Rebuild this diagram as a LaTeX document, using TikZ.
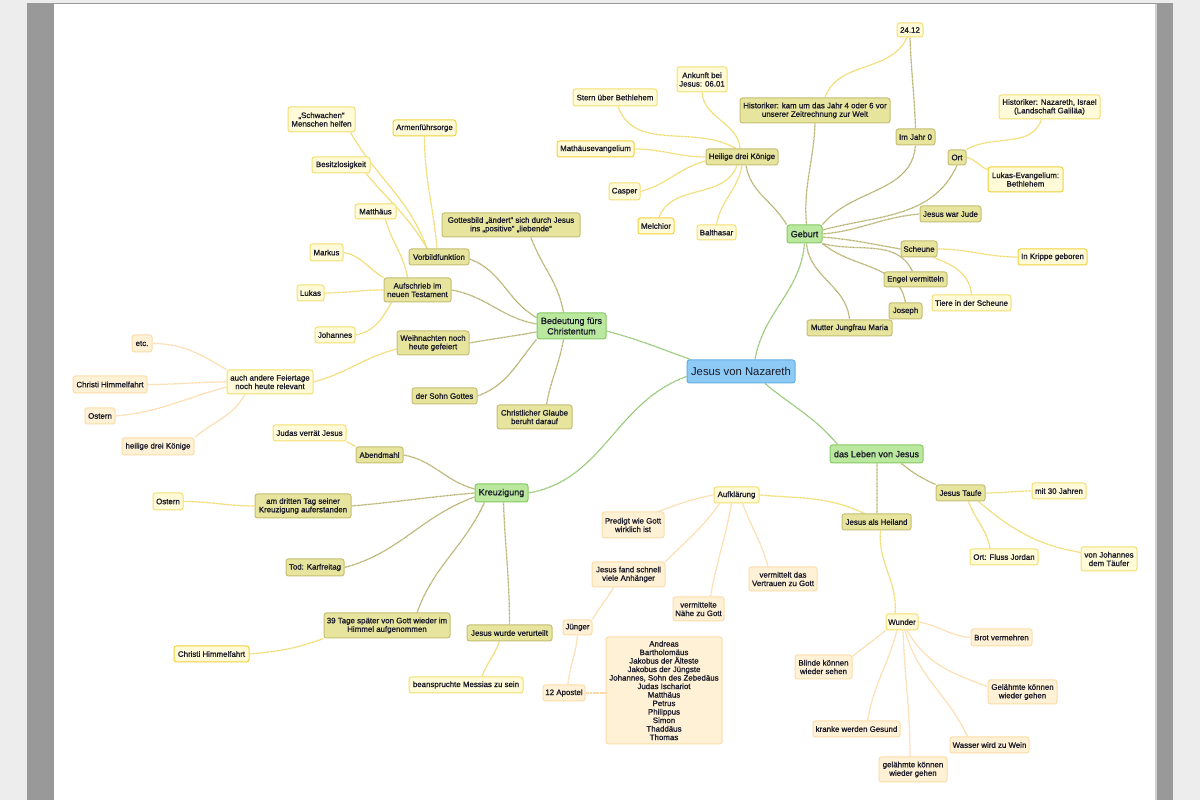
\documentclass[tikz,border=0pt]{standalone}
\usepackage{fontspec}
\setmainfont{Liberation Sans}
\newfontfamily\heavyfont{Liberation Sans}[FakeBold=1.1]
\definecolor{c0f}{HTML}{8DCBF6}\definecolor{c0d}{HTML}{62AEE3}
\definecolor{c1f}{HTML}{B9E89E}\definecolor{c1d}{HTML}{86C964}
\definecolor{c2f}{HTML}{E7E49E}\definecolor{c2d}{HTML}{C4BF72}
\definecolor{c3f}{HTML}{FFFAD8}\definecolor{c3d}{HTML}{F4DE70}\definecolor{c3s}{HTML}{F2D23A}
\definecolor{c4f}{HTML}{FFF1D6}\definecolor{c4d}{HTML}{FCDCA8}
\definecolor{l1c}{HTML}{8FC66F}\definecolor{l2c}{HTML}{B4AE68}
\definecolor{l3c}{HTML}{F1D966}\definecolor{l4c}{HTML}{FDD9A6}
\definecolor{txt}{HTML}{1A1A28}
\pgfdeclarelayer{back}\pgfdeclarelayer{bg}\pgfsetlayers{back,bg,main}
\newcommand{\mnode}[7]{\node[#1,minimum width=#5,minimum height=#6] (#2) at (#3,#4) {#7};}
\begin{document}
\begin{tikzpicture}[x=1pt,y=1pt,
 box/.style={draw, rounded corners=2.5pt, line width=1pt, inner sep=1pt, align=center, text=txt, font=\heavyfont\fontsize{7.9}{8.5}\selectfont},
 n0/.style={box, fill=c0f, draw=c0d, font=\fontsize{11.3}{13}\selectfont},
 n1/.style={box, fill=c1f, draw=c1d, font=\heavyfont\fontsize{9}{10.5}\selectfont},
 n2/.style={box, fill=c2f, draw=c2d},
 n3/.style={box, fill=c3f, draw=c3d},
 n3b/.style={box, fill=c3f, draw=c3s},
 n4/.style={box, fill=c4f, draw=c4d},
 ln/.style={line width=1.25pt, dash pattern=on 0.9pt off 0.5pt},
 l1/.style={ln, draw=l1c}, l2/.style={ln, draw=l2c}, l3/.style={ln, draw=l3c}, l4/.style={ln, draw=l4c}]
\useasboundingbox (0,0) rectangle (1200,800);
\begin{pgfonlayer}{back}
\fill[fill=black!7] (0,0) rectangle (1200,800);
\fill[fill=black!40] (27,0) rectangle (1173,797);
\fill[fill=black!18] (1155,0) rectangle (1157,796);
\fill[white] (54,0) rectangle (1155,796);
\end{pgfonlayer}
% central and level 1
\mnode{n0}{cen}{741}{428.5}{108}{23}{Jesus von Nazareth}
\mnode{n1}{geb}{804.5}{566}{35}{18}{Geburt}
\mnode{n1}{bed}{571.5}{474}{69}{26}{Bedeutung fürs\\Christentum}
\mnode{n1}{kreuz}{501.5}{307}{53}{18}{Kreuzigung}
\mnode{n1}{leben}{876.5}{346}{93}{18}{das Leben von Jesus}
% Geburt
\mnode{n2}{hdk}{742}{643}{72}{16}{Heilige drei Könige}
\mnode{n3}{ank}{702}{720.5}{50}{25}{Ankunft bei\\Jesus: 06.01}
\mnode{n3}{stern}{615}{702.5}{84}{17}{Stern über Bethlehem}
\mnode{n3b}{mathev}{595.5}{651}{77}{16}{Mathäusevangelium}
\mnode{n3}{casper}{624.5}{608.5}{31}{17}{Casper}
\mnode{n3b}{melch}{656}{574}{36}{16}{Melchior}
\mnode{n3}{balth}{716.5}{567.5}{39}{15}{Balthasar}
\mnode{n2}{hist}{815}{689.5}{150}{25}{Historiker: kam um das Jahr 4 oder 6 vor\\unserer Zeitrechnung zur Welt}
\mnode{n3}{dd}{910}{770}{26}{14}{24.12}
\mnode{n2}{jahr}{915.5}{663}{39}{16}{Im Jahr 0}
\mnode{n2}{ort}{957}{642.5}{18}{15}{Ort}
\mnode{n3}{histn}{1049.5}{693}{101}{24}{Historiker: Nazareth, Israel\\(Landschaft Galiläa)}
\mnode{n3b}{lukev}{1025.5}{620.5}{75}{25}{Lukas-Evangelium:\\Bethlehem}
\mnode{n2}{jude}{950.5}{586}{61}{16}{Jesus war Jude}
\mnode{n2}{scheune}{919}{551}{36}{16}{Scheune}
\mnode{n3b}{krippe}{1052.5}{543}{69}{16}{In Krippe geboren}
\mnode{n3}{tiere}{971.5}{497}{79}{16}{Tiere in der Scheune}
\mnode{n2}{engel}{915.5}{520.5}{63}{15}{Engel vermitteln}
\mnode{n2}{joseph}{905.5}{489}{33}{16}{Joseph}
\mnode{n2}{maria}{849.5}{472}{85}{16}{Mutter Jungfrau Maria}
% Bedeutung
\mnode{n2}{gottes}{511}{575}{138}{24}{Gottesbild „ändert“ sich durch Jesus\\ins „positive“ „liebende“}
\mnode{n2}{vorbild}{439}{543}{60}{16}{Vorbildfunktion}
\mnode{n3}{schw}{321.5}{680.5}{67}{25}{„Schwachen“\\Menschen helfen}
\mnode{n3b}{armen}{424.5}{672}{63}{16}{Armenführsorge}
\mnode{n3}{besitz}{341}{635}{58}{16}{Besitzlosigkeit}
\mnode{n2}{aufschr}{417.5}{510}{67}{24}{Aufschrieb im\\neuen Testament}
\mnode{n3}{matth}{375.5}{588.5}{41}{15}{Matthäus}
\mnode{n3}{markus}{326.5}{547.5}{33}{17}{Markus}
\mnode{n3}{lukas}{310.5}{507}{27}{16}{Lukas}
\mnode{n3}{joh}{335}{465}{40}{16}{Johannes}
\mnode{n2}{weih}{433}{457}{72}{24}{Weihnachten noch\\heute gefeiert}
\mnode{n3}{auch}{270}{418}{86}{24}{auch andere Feiertage\\noch heute relevant}
\mnode{n4}{etc}{142}{456.5}{20}{17}{etc.}
\mnode{n4}{chha}{110}{415.5}{74}{17}{Christi Himmelfahrt}
\mnode{n4}{ostera}{100}{384}{30}{16}{Ostern}
\mnode{n4}{hdkb}{158}{353.5}{72}{17}{heilige drei Könige}
\mnode{n2}{sohn}{444.5}{404}{65}{16}{der Sohn Gottes}
\mnode{n2}{glaube}{534.5}{383}{75}{24}{Christlicher Glaube\\beruht darauf}
% Kreuzigung
\mnode{n2}{abend}{379.5}{345}{47}{16}{Abendmahl}
\mnode{n3}{judas}{309.5}{367}{73}{16}{Judas verrät Jesus}
\mnode{n2}{adt}{303}{294}{96}{24}{am dritten Tag seiner\\Kreuzigung auferstanden}
\mnode{n3}{osterb}{168}{298.5}{30}{17}{Ostern}
\mnode{n2}{tod}{315}{232.5}{58}{17}{Tod: Karfreitag}
\mnode{n2}{dd39}{387}{174.5}{126}{25}{39 Tage später von Gott wieder im\\Himmel aufgenommen}
\mnode{n3b}{chhb}{211.5}{146}{75}{16}{Christi Himmelfahrt}
\mnode{n2}{verurt}{509.5}{167}{85}{16}{Jesus wurde verurteilt}
\mnode{n3}{bean}{466}{115}{114}{16}{beanspruchte Messias zu sein}
% Leben
\mnode{n2}{taufe}{960.5}{307}{49}{16}{Jesus Taufe}
\mnode{n3}{mit}{1059}{309}{54}{16}{mit 30 Jahren}
\mnode{n3}{jordan}{1004}{243}{68}{16}{Ort: Fluss Jordan}
\mnode{n3}{vonjoh}{1109}{241}{56}{24}{von Johannes\\dem Täufer}
\mnode{n2}{heiland}{876.5}{278}{69}{16}{Jesus als Heiland}
\mnode{n3}{aufk}{736.5}{305}{45}{16}{Aufklärung}
\mnode{n4}{predigt}{633}{275}{62}{26}{Predigt wie Gott\\wirklich ist}
\mnode{n4}{jfs}{628.5}{225.5}{73}{25}{Jesus fand schnell\\viele Anhänger}
\mnode{n4}{nahe}{698.5}{191}{51}{24}{vermittelte\\Nähe zu Gott}
\mnode{n4}{vertr}{783}{221}{68}{24}{vermittelt das\\Vertrauen zu Gott}
\mnode{n4}{juenger}{577.5}{172.5}{29}{15}{Jünger}
\mnode{n4}{apostel}{564}{107}{42}{16}{12 Apostel}
\mnode{n4}{names}{664}{109.5}{116}{107}{Andreas\\Bartholomäus\\Jakobus der Älteste\\Jakobus der Jüngste\\Johannes, Sohn des Zebedäus\\Judas Ischariot\\Matthäus\\Petrus\\Philippus\\Simon\\Thaddäus\\Thomas}
\mnode{n3}{wunder}{902}{178}{32}{16}{Wunder}
\mnode{n4}{brot}{1001.5}{162.5}{61}{17}{Brot vermehren}
\mnode{n4}{blinde}{823.5}{133}{57}{24}{Blinde können\\wieder sehen}
\mnode{n4}{gelr}{1022.5}{108}{69}{24}{Gelähmte können\\wieder gehen}
\mnode{n4}{kranke}{856.5}{71}{87}{16}{kranke werden Gesund}
\mnode{n4}{wasser}{989.5}{55}{79}{16}{Wasser wird zu Wein}
\mnode{n4}{gelb}{913}{30.5}{68}{25}{gelähmte können\\wieder gehen}
\begin{pgfonlayer}{bg}
% level 1
\draw[l1] ([xshift=14]cen.north) to[out=80,in=-95] (geb.south);
\draw[l1] ([xshift=4]cen.north west) to[out=160,in=-15] ([yshift=-5]bed.east);
\draw[l1] ([yshift=-5]cen.west) to[out=200,in=10] (kreuz.east);
\draw[l1] ([xshift=24]cen.south) to[out=-40,in=130] ([xshift=8]leben.north west);
% Geburt
\draw[l2] (geb.north west) to[out=120,in=-80] ([xshift=4]hdk.south);
\draw[l2] ([xshift=2]geb.north) to[out=95,in=-92] (hist.south);
\draw[l2] (geb.north east) to[out=50,in=-95] (jahr.south);
\draw[l2] ([yshift=4]geb.east) to[out=15,in=-115] (ort.south);
\draw[l2] (geb.east) to[out=5,in=185] (jude.west);
\draw[l2] ([yshift=-3]geb.east) to[out=-5,in=170] (scheune.west);
\draw[l2] (geb.south east) to[out=-15,in=115] ([xshift=-3]engel.north);
\draw[l2] (geb.south east) to[out=-40,in=100] (joseph.north);
\draw[l2] ([xshift=2]geb.south) to[out=-85,in=95] (maria.north);
\draw[l2] (jahr.north) to[out=92,in=-88] (dd.south);
\draw[l3] ([xshift=10]hist.north) to[out=70,in=-115] ([xshift=-3]dd.south);
\draw[l3] ([xshift=-2]hdk.north) to[out=95,in=-85] (ank.south);
\draw[l3] ([xshift=-6]hdk.north) to[out=150,in=-70] ([xshift=3]stern.south);
\draw[l3] (hdk.west) to[out=180,in=0] (mathev.east);
\draw[l3] ([yshift=-4]hdk.west) to[out=195,in=15] (casper.east);
\draw[l3] ([xshift=-5]hdk.south) to[out=-110,in=70] ([xshift=3]melch.north);
\draw[l3] (hdk.south) to[out=-100,in=80] (balth.north);
\draw[l3] (ort.north east) to[out=30,in=-110] ([xshift=-8]histn.south);
\draw[l3] (ort.east) to[out=-10,in=160] ([yshift=-3]lukev.north west);
\draw[l3] (scheune.east) to[out=0,in=180] (krippe.west);
\draw[l3] ([xshift=-4]scheune.south east) to[out=-20,in=95] (tiere.north);
% Bedeutung
\draw[l2] ([xshift=-8]bed.north) to[out=100,in=-70] ([xshift=20]gottes.south);
\draw[l2] ([yshift=-5]bed.north west) to[out=150,in=-20] ([yshift=-2]vorbild.east);
\draw[l2] ([yshift=2]bed.west) to[out=170,in=-10] (aufschr.east);
\draw[l2] ([yshift=-6]bed.west) to[out=190,in=10] (weih.east);
\draw[l2] (bed.south west) to[out=-130,in=20] (sohn.east);
\draw[l2] ([xshift=-8]bed.south) to[out=-100,in=80] ([xshift=12]glaube.north);
\draw[l3] ([xshift=-12]vorbild.north) to[out=110,in=-60] ([xshift=29]schw.south);
\draw[l3] ([xshift=-2]vorbild.north) to[out=95,in=-90] (armen.south);
\draw[l3] ([xshift=-12]vorbild.north) to[out=120,in=-50] ([xshift=25]besitz.south);
\draw[l3] ([xshift=-10]aufschr.north) to[out=100,in=-75] ([xshift=10]matth.south);
\draw[l3] (aufschr.north west) to[out=150,in=-10] (markus.east);
\draw[l3] (aufschr.west) to[out=180,in=0] (lukas.east);
\draw[l3] ([xshift=8]aufschr.south west) to[out=-120,in=10] (joh.east);
\draw[l3] ([yshift=-6]weih.west) to[out=195,in=15] (auch.east);
\draw[l4] (auch.north west) to[out=150,in=0] (etc.east);
\draw[l4] (auch.west) to[out=180,in=0] (chha.east);
\draw[l4] ([yshift=-5]auch.west) to[out=195,in=5] (ostera.east);
\draw[l4] ([xshift=-25]auch.south) to[out=-120,in=40] (hdkb.north east);
% Kreuzigung
\draw[l2] ([yshift=4]kreuz.west) to[out=165,in=-10] (abend.east);
\draw[l2] (kreuz.west) to[out=185,in=5] (adt.east);
\draw[l2] ([yshift=-4]kreuz.west) to[out=200,in=15] (tod.east);
\draw[l2] ([xshift=10]kreuz.south west) to[out=-115,in=70] ([xshift=30]dd39.north);
\draw[l2] ([xshift=2]kreuz.south) to[out=-88,in=90] (verurt.north);
\draw[l3] (abend.north west) to[out=150,in=-30] (judas.south east);
\draw[l3] (adt.west) to[out=180,in=0] (osterb.east);
\draw[l3] (dd39.south west) to[out=200,in=5] (chhb.east);
\draw[l3] ([xshift=-10]verurt.south) to[out=-110,in=70] ([xshift=16]bean.north);
% Leben
\draw[l2] ([xshift=25]leben.south) to[out=-40,in=155] (taufe.north west);
\draw[l2] ([xshift=0.5]leben.south) to[out=-89,in=91] ([xshift=0.5]heiland.north);
\draw[l3] (taufe.east) to[out=0,in=180] (mit.west);
\draw[l3] ([xshift=8]taufe.south) to[out=-70,in=100] ([xshift=-14]jordan.north);
\draw[l3] ([xshift=18]taufe.south) to[out=-40,in=170] ([yshift=-6]vonjoh.north west);
\draw[l3] ([xshift=-12]heiland.north) to[out=155,in=-5] (aufk.east);
\draw[l3] ([xshift=4]heiland.south) to[out=-95,in=85] ([xshift=-7]wunder.north);
\draw[l4] (aufk.west) to[out=190,in=20] ([xshift=-6]predigt.north east);
\draw[l4] ([xshift=-17]aufk.south) to[out=-125,in=45] (jfs.north east);
\draw[l4] ([xshift=-5]aufk.south) to[out=-100,in=80] ([xshift=12]nahe.north);
\draw[l4] ([xshift=6]aufk.south) to[out=-70,in=105] ([xshift=-15]vertr.north);
\draw[l4] ([xshift=-15]jfs.south) to[out=-120,in=60] (juenger.north east);
\draw[l4] (juenger.south) to[out=-95,in=85] ([xshift=4]apostel.north);
\draw[l4] (apostel.east) to[out=0,in=180] (names.west |- apostel.east);
\draw[l4] (wunder.east) to[out=-10,in=175] (brot.west);
\draw[l4] (wunder.south west) to[out=-140,in=40] ([yshift=-2]blinde.north east);
\draw[l4] ([xshift=5]wunder.south) to[out=-60,in=160] ([yshift=-7]gelr.north west);
\draw[l4] ([xshift=-5]wunder.south) to[out=-105,in=80] ([xshift=11]kranke.north);
\draw[l4] ([xshift=3]wunder.south) to[out=-75,in=115] ([xshift=-22]wasser.north);
\draw[l4] ([xshift=1]wunder.south) to[out=-88,in=90] ([xshift=-3]gelb.north);
\end{pgfonlayer}
\end{tikzpicture}
\end{document}
